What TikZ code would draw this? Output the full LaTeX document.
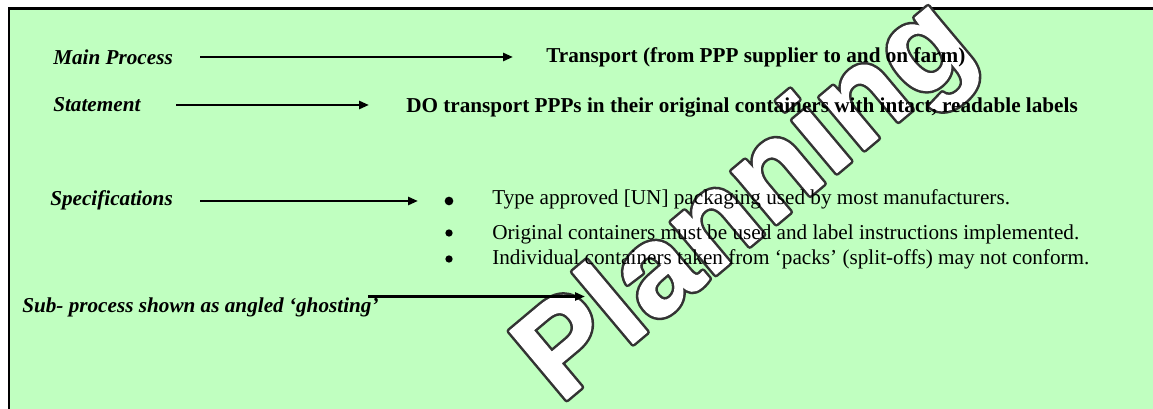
\documentclass[tikz,border=0pt]{standalone}
\usepackage{fontspec}
\setmainfont{Liberation Serif}
\newfontfamily\wmfont{Liberation Sans}
\usetikzlibrary{arrows.meta}
\definecolor{bg}{RGB}{192,255,192}
\newcommand\outlinedword[1]{\color{white}\rlap{\special{pdf:literal direct 2 Tr 4.6 w 0.2 G 1 J 1 j}#1}\special{pdf:literal direct 2 Tr 0.8 w 1 G}#1\special{pdf:literal direct 0 Tr 1 w 0 J 0 j}}
\begin{document}
\begin{tikzpicture}[x=0.75pt,y=-0.75pt,
  lbl/.style={font=\fontsize{15.9}{18}\selectfont\bfseries\itshape, anchor=base west, inner sep=0},
  boldtxt/.style={font=\fontsize{15.9}{18}\selectfont\bfseries, anchor=base west, inner sep=0},
  item/.style={font=\fontsize{15.9}{18}\selectfont, anchor=base west, inner sep=0},
  arr/.style={line width=2pt, -{Triangle[length=7.5pt,width=6pt]}},
  bigdot/.style={circle, fill=black, inner sep=0, minimum size=6.5pt},
  smalldot/.style={circle, fill=black, inner sep=0, minimum size=5.5pt},
  watermark/.style={font=\wmfont\bfseries\fontsize{97}{97}\selectfont, anchor=base west, inner sep=0, rotate=40},
]
\useasboundingbox (0,0) rectangle (1153,409);
\fill[bg] (9,9) rectangle (1153,409);
\draw[line width=1.9pt] (9,409) -- (9,8.7) -- (1153,8.7);

% watermark
\node[watermark] (wm) at (560,405) {\outlinedword{Planning}};

% labels
\node[lbl] (mp) at (53,65) {Main Process};
\node[lbl] (st) at (53,112) {Statement};
\node[lbl] (sp) at (50,206) {Specifications};
\node[lbl] (sub) at (22,313) {Sub- process shown as angled ‘ghosting’};

% targets
\node[boldtxt] (tr) at (546,63) {Transport (from PPP supplier to and on farm)};
\node[boldtxt] (do) at (406,113) {DO transport PPPs in their original containers with intact, readable labels};

\node[bigdot] (b1) at (449,201) {};
\node[smalldot] (b2) at (449,233) {};
\node[smalldot] (b3) at (449,259) {};
\node[item] (i1) at (492,205) {Type approved [UN] packaging used by most manufacturers.};
\node[item] (i2) at (492,240) {Original containers must be used and label instructions implemented.};
\node[item] (i3) at (492,265) {Individual containers taken from ‘packs’ (split-offs) may not conform.};

% arrow endpoints
\coordinate (a1s) at (200,57);  \coordinate (a1e) at (513,57);
\coordinate (a2s) at (176,105); \coordinate (a2e) at (369,105);
\coordinate (a3s) at (200,201); \coordinate (a3e) at (418,201);
\coordinate (a4s) at (368,296.5); \coordinate (a4e) at (585,296.5);

\draw[arr] (a1s) -- (a1e);
\draw[arr] (a2s) -- (a2e);
\draw[arr] (a3s) -- (a3e);
\draw[arr] (a4s) -- (a4e);
\end{tikzpicture}
\end{document}
